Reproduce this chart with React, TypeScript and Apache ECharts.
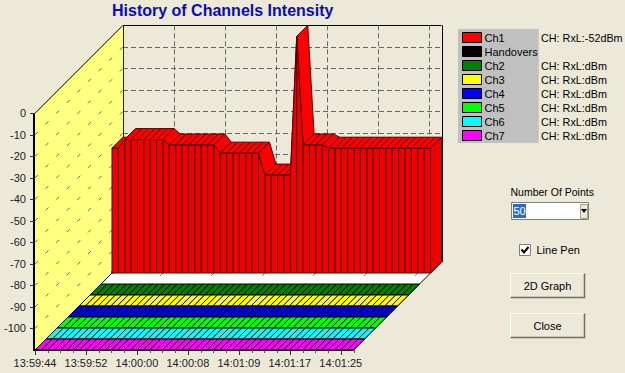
import React, { useEffect, useRef } from "react";
import * as echarts from "echarts";

const ch1Values = [
  -52, -52, -48, -48, -48, -48, -48, -48, -48, -50.5, -50.5, -50.5, -50.5, -50.5, -50.5, -50.5, -50.5,
  -54.3, -54.3, -54.3, -54.3, -54.3, -54.3, -54.3, -64.5, -64.5, -64.5, -64.5, -64.5, 0,
  -50.5, -50.5, -50.5, -50.5, -52, -52, -52, -52, -52, -52, -52, -52, -52, -52, -52, -52, -52, -52, -52, -52, -52,
];
const idleValues = [
  -110, -110, -110, -110, -110, -110, -110, -110, -110, -110, -110, -110, -110, -110, -110, -110, -110,
  -110, -110, -110, -110, -110, -110, -110, -110, -110, -110, -110, -110, -110, -110, -110, -110, -110,
  -110, -110, -110, -110, -110, -110, -110, -110, -110, -110, -110, -110, -110, -110, -110, -110, -110,
];
const timeLabels = ["13:59:44", "13:59:52", "14:00:00", "14:00:08", "14:01:09", "14:01:17", "14:01:25"];
const legendNames = ["Ch1", "Handovers", "Ch2", "Ch3", "Ch4", "Ch5", "Ch6", "Ch7"];
const legendColors = ["#FF0000", "#000000", "#008000", "#FFFF00", "#0000FF", "#00FF00", "#00FFFF", "#FF00FF"];
const rxlLabels = ["CH: RxL:-52dBm", "", "CH: RxL:dBm", "CH: RxL:dBm", "CH: RxL:dBm", "CH: RxL:dBm", "CH: RxL:dBm", "CH: RxL:dBm"];
const flatChannels = [
  { name: "Ch2", depth: 5, color: "#008000", values: idleValues },
  { name: "Ch3", depth: 4, color: "#FFFF00", values: idleValues },
  { name: "Ch4", depth: 3, color: "#0000E8", values: idleValues },
  { name: "Ch5", depth: 2, color: "#00FF00", values: idleValues },
  { name: "Ch6", depth: 1, color: "#00FFFF", values: idleValues },
  { name: "Ch7", depth: 0, color: "#FF00FF", values: idleValues },
];

const STEP = 11;
const BG = "#ECE9D8";
const X_MAX = 50;
const Y_MIN = -110;
const xTicks = [0, 8, 16, 24, 32, 40, 48];
const xMinorTicks = [2, 4, 6, 10, 12, 14, 18, 20, 22, 26, 28, 30, 34, 36, 38, 42, 44, 46, 50];
const yGrid = [-10, -20, -30, -40, -50, -60, -70, -80, -90, -100];
const yTicks = [0, -10, -20, -30, -40, -50, -60, -70, -80, -90, -100];

const proj = (api: any) => (x: number, v: number, d: number) => {
  const c = api.coord([x, v]);
  return [c[0] + d * STEP, c[1] - d * STEP];
};
const rows = (vals: number[]) => vals.map((v, i) => [i, v, i + 1 < vals.length ? vals[i + 1] : v]);
const crisp = (n: number) => Math.round(n) + 0.5;

const seg = (x1: number, y1: number, x2: number, y2: number, stroke: string, lineDash?: number[], lineWidth = 1) => ({
  type: "line",
  shape: { x1, y1, x2, y2 },
  style: { stroke, lineDash, lineWidth, fill: null },
  silent: true,
});

function wallsItem(_p: any, api: any) {
  const p = proj(api);
  const ln = (a: number[], b: number[], stroke: string, dash?: number[], w = 1) => seg(a[0], a[1], b[0], b[1], stroke, dash, w);
  const hLine = (a: number[], b: number[], stroke: string, dash?: number[]) => seg(a[0], crisp(a[1]), b[0], crisp(b[1]), stroke, dash);
  const vLine = (a: number[], b: number[], stroke: string, dash?: number[]) => seg(crisp(a[0]), a[1], crisp(b[0]), b[1], stroke, dash);
  const children: any[] = [
    { type: "polygon", shape: { points: [p(0, Y_MIN, 0), p(0, 0, 0), p(0, 0, 8), p(0, Y_MIN, 8)] }, style: { fill: "#FFFF80" } },
    { type: "polygon", shape: { points: [p(0, Y_MIN, 0), p(X_MAX, Y_MIN, 0), p(X_MAX, Y_MIN, 8), p(0, Y_MIN, 8)] }, style: { fill: "#FFFFFF" } },
  ];
  yGrid.forEach((v) => {
    children.push(ln(p(0, v, 0), p(0, v, 8), "#666", [4, 11]));
    children.push(hLine(p(0, v, 8), p(X_MAX, v, 8), "#666", [5, 3]));
  });
  xTicks.slice(1).forEach((x) => {
    children.push(vLine(p(x, 0, 8), p(x, Y_MIN, 8), "#666", [5, 3]));
    children.push(ln(p(x, Y_MIN, 0), p(x, Y_MIN, 8), "#666", [4, 11]));
  });
  children.push(ln(p(0, 0, 0), p(0, 0, 8), "#000"));
  children.push(hLine(p(0, 0, 8), p(X_MAX, 0, 8), "#000"));
  children.push(vLine(p(X_MAX, 0, 8), p(X_MAX, Y_MIN, 8), "#000"));
  children.push(vLine(p(0, 0, 8), p(0, Y_MIN, 8), "#222"));
  children.push(ln(p(0, Y_MIN, 0), p(0, Y_MIN, 8), "#000"));
  children.push(ln(p(0, Y_MIN, 7), p(0, Y_MIN, 8), "#000", undefined, 3));
  children.push(ln(p(X_MAX, Y_MIN, 0), p(X_MAX, Y_MIN, 8), "#000"));
  return { type: "group", children };
}

function frameItem(_p: any, api: any) {
  const p = proj(api);
  const origin = p(0, Y_MIN, 0);
  const top = p(0, 0, 0);
  const end = p(X_MAX, Y_MIN, 0);
  const children: any[] = [
    seg(origin[0] - 1, top[1], origin[0] - 1, origin[1] + 1, "#000", undefined, 2),
    seg(origin[0] - 2, origin[1], end[0], origin[1], "#000", undefined, 2),
  ];
  yTicks.forEach((v) => {
    const c = p(0, v, 0);
    children.push(seg(c[0] - 5, crisp(c[1]), c[0] - 1, crisp(c[1]), "#333"));
  });
  xTicks.forEach((x) => {
    const c = p(x, Y_MIN, 0);
    children.push(seg(crisp(c[0]), c[1], crisp(c[0]), c[1] + 5, "#333"));
  });
  xMinorTicks.forEach((x) => {
    const c = p(x, Y_MIN, 0);
    children.push(seg(crisp(c[0]), c[1], crisp(c[0]), c[1] + 3, "#555"));
  });
  return { type: "group", children };
}

const surfaceItem = (depth: number, fill: string, stroke: string) => (_p: any, api: any) => {
  const p = proj(api);
  const i = api.value(0);
  const v = api.value(1);
  const n = api.value(2);
  if (i >= X_MAX) return { type: "group", children: [] };
  return {
    type: "polygon",
    shape: { points: [p(i, v, depth), p(i + 1, n, depth), p(i + 1, n, depth + 1), p(i, v, depth + 1)] },
    style: { fill, stroke, lineWidth: 1 },
  };
};

const faceItem = (depth: number, fill: string, stroke: string) => (_p: any, api: any) => {
  const p = proj(api);
  const i = api.value(0);
  const v = api.value(1);
  const n = api.value(2);
  const points =
    i < X_MAX
      ? [p(i, v, depth), p(i + 1, n, depth), p(i + 1, Y_MIN, depth), p(i, Y_MIN, depth)]
      : [p(i, v, depth), p(i, v, depth + 1), p(i, Y_MIN, depth + 1), p(i, Y_MIN, depth)];
  return { type: "polygon", shape: { points }, style: { fill, stroke, lineWidth: 1 } };
};

const customBase = { type: "custom", coordinateSystem: "cartesian2d", clip: false, silent: true, encode: { x: 0, y: 1 } };

function raised(x: number, y: number, w: number, h: number, label: string) {
  return [
    { type: "rect", shape: { x, y, width: w, height: h }, style: { fill: BG, stroke: "#FFFFFF" }, silent: true },
    { type: "polyline", shape: { points: [[x, y + h], [x + w, y + h], [x + w, y]] }, style: { stroke: "#716F64", fill: null, lineWidth: 1.5 }, silent: true },
    { type: "text", x: x + w / 2, y: y + h / 2, style: { text: label, font: '11px "Liberation Sans"', fill: "#000", textAlign: "center", textVerticalAlign: "middle" }, silent: true },
  ];
}

function controls(): any[] {
  const rxl = rxlLabels
    .map((text, i) => ({ text, i }))
    .filter((r) => r.text)
    .map((r) => ({
      type: "text",
      x: 541,
      y: 37.5 + r.i * 14,
      style: { text: r.text, font: '10.8px "Liberation Sans"', fill: "#000", textVerticalAlign: "middle" },
      silent: true,
    }));
  return [
    ...rxl,
    { type: "text", x: 510.5, y: 192, style: { text: "Number Of Points", font: '10.5px "Liberation Sans"', fill: "#000", textVerticalAlign: "middle" }, silent: true },
    { type: "rect", shape: { x: 511.5, y: 202.5, width: 77, height: 17 }, style: { fill: "#FFF", stroke: "#808078" }, silent: true },
    { type: "rect", shape: { x: 513, y: 204, width: 13, height: 14 }, style: { fill: "#316AC5" }, silent: true },
    { type: "text", x: 513.5, y: 211, style: { text: "50", font: '11px "Liberation Sans"', fill: "#FFF", textVerticalAlign: "middle" }, silent: true },
    { type: "rect", shape: { x: 580.5, y: 204.5, width: 7, height: 14 }, style: { fill: BG, stroke: "#A0A090" }, silent: true },
    { type: "polygon", shape: { points: [[581, 209], [587, 209], [584, 213]] }, style: { fill: "#000" }, silent: true },
    { type: "rect", shape: { x: 519.5, y: 244.5, width: 11, height: 11 }, style: { fill: "#FFF", stroke: "#808078" }, silent: true },
    { type: "polyline", shape: { points: [[521.5, 249.5], [524, 252.5], [528.5, 247]] }, style: { stroke: "#000", fill: null, lineWidth: 2 }, silent: true },
    { type: "text", x: 536.5, y: 249.5, style: { text: "Line Pen", font: '11px "Liberation Sans"', fill: "#000", textVerticalAlign: "middle" }, silent: true },
    ...raised(510.5, 273.5, 74, 24, "2D Graph"),
    ...raised(510.5, 313.5, 74, 24, "Close"),
  ];
}

export default function App() {
  const ref = useRef<HTMLDivElement>(null);
  useEffect(() => {
    document.body.style.margin = "0";
    document.body.style.background = BG;
    const chart = echarts.init(ref.current!, null, { renderer: "svg" });
    chart.setOption({
      animation: false,
      backgroundColor: BG,
      title: {
        text: "History of Channels Intensity",
        left: 112,
        top: 2,
        padding: 0,
        textStyle: { fontFamily: "Liberation Sans", fontSize: 16, fontWeight: "bold", color: "#0C0CB0" },
      },
      grid: { left: 35, top: 113.3, width: 318.5, height: 236.7, containLabel: false, show: false },
      xAxis: {
        type: "value",
        min: 0,
        max: X_MAX,
        interval: 8,
        splitLine: { show: false },
        axisLine: { show: false, onZero: false },
        axisTick: { show: false },
        axisLabel: {
          margin: 7,
          color: "#222",
          fontFamily: "Liberation Sans",
          fontSize: 11,
          formatter: (v: number) => (v % 8 === 0 && timeLabels[v / 8]) || "",
          showMinLabel: true,
          showMaxLabel: false,
        },
      },
      yAxis: {
        type: "value",
        min: Y_MIN,
        max: 0,
        interval: 10,
        splitLine: { show: false },
        axisLine: { show: false, onZero: false },
        axisTick: { show: false },
        axisLabel: {
          margin: 9,
          color: "#222",
          fontFamily: "Liberation Sans",
          fontSize: 11,
          formatter: (v: number) => (v === Y_MIN ? "" : String(v)),
        },
      },
      legend: {
        orient: "vertical",
        left: 458,
        top: 29,
        padding: [2, 1, 1, 4],
        backgroundColor: "#C0C0C0",
        icon: "rect",
        itemWidth: 19,
        itemHeight: 10,
        itemGap: 1,
        selectedMode: false,
        textStyle: { fontFamily: "Liberation Sans", fontSize: 11, color: "#000", lineHeight: 13, padding: [0, 0, 0, -2] },
        data: legendNames.map((name, i) => ({
          name,
          icon: "rect",
          itemStyle: { color: legendColors[i], borderColor: "#000", borderWidth: 1 },
        })),
      },
      series: [
        { ...customBase, name: "walls", z: 1, data: [[0, 0]], renderItem: wallsItem },
        { ...customBase, name: "Handovers", z: 1, data: [], itemStyle: { color: "#000000" }, renderItem: () => ({ type: "group", children: [] }) },
        ...flatChannels.map((c) => ({
          ...customBase,
          name: c.name,
          z: 2,
          itemStyle: { color: c.color },
          data: rows(c.values),
          renderItem: surfaceItem(c.depth, c.color, "#000"),
        })),
        { ...customBase, name: "Ch1", z: 3, itemStyle: { color: "#FF0000" }, data: rows(ch1Values), renderItem: surfaceItem(7, "#FF0000", "#5A0000") },
        { ...customBase, name: "Ch1", z: 4, itemStyle: { color: "#FF0000" }, data: rows(ch1Values), renderItem: faceItem(7, "#F00000", "#4A0000") },
        { ...customBase, name: "frame", z: 5, data: [[0, 0]], renderItem: frameItem },
      ],
      graphic: { elements: controls() },
    });
    return () => chart.dispose();
  }, []);
  return <div ref={ref} style={{ position: "fixed", left: 0, top: 0, width: 625, height: 373 }} />;
}
